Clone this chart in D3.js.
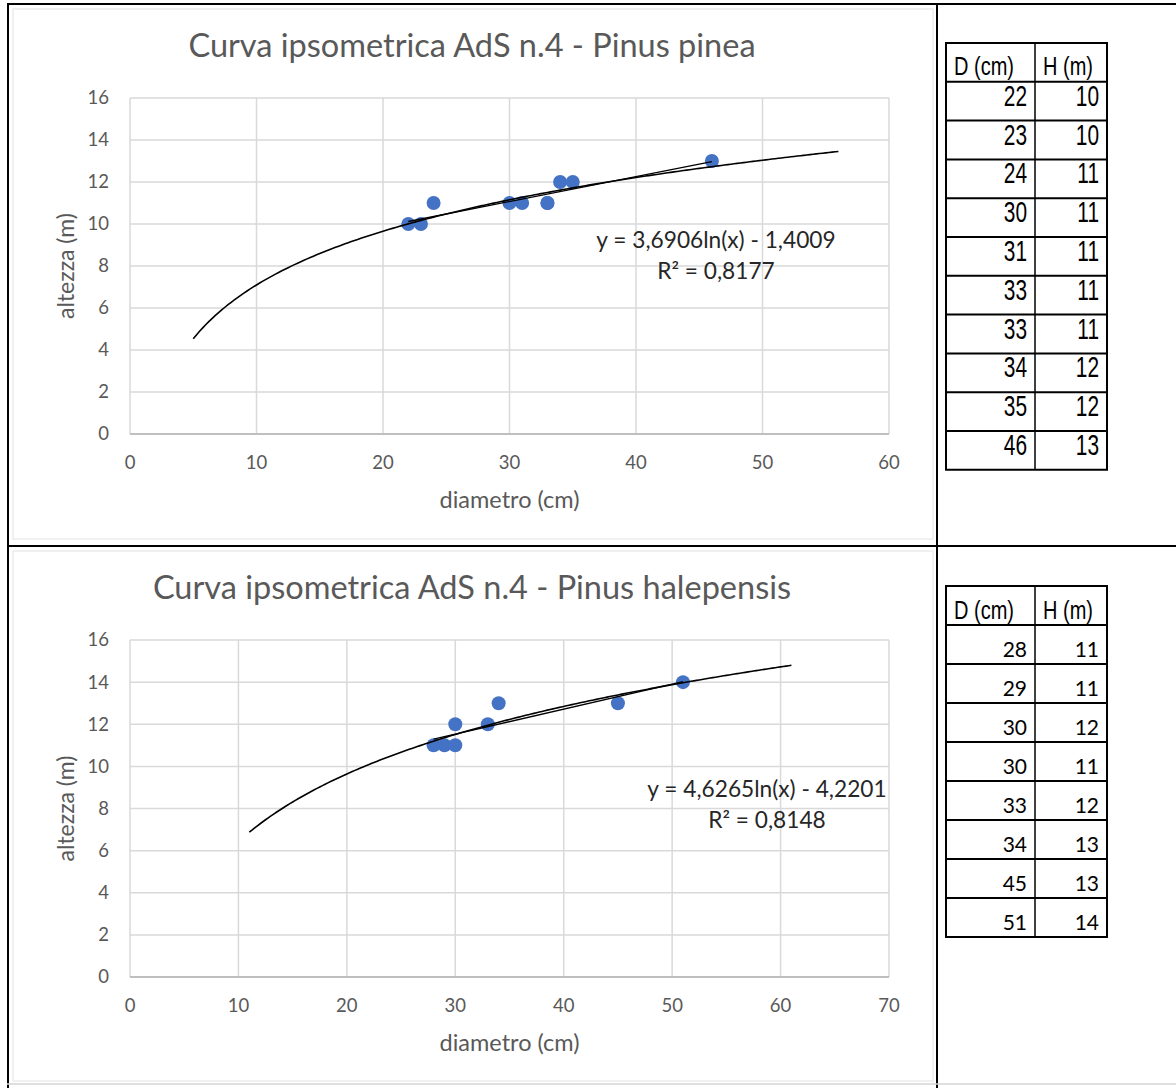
<!DOCTYPE html>
<html><head><meta charset="utf-8">
<script src="https://cdn.jsdelivr.net/npm/d3@7"></script>
<style>
html,body{margin:0;padding:0;background:#fff;}
svg{display:block;}
</style></head>
<body>
<svg id="c" width="1176" height="1088"></svg>
<script>
// ---------- DATA ----------
const pineaD = [22, 23, 24, 30, 31, 33, 33, 34, 35, 46];
const pineaH = [10, 10, 11, 11, 11, 11, 11, 12, 12, 13];
const halepD = [28, 29, 30, 30, 33, 34, 45, 51];
const halepH = [11, 11, 12, 11, 12, 13, 13, 14];
const pineaLogFit = [3.6906, -1.4009];   // y = a ln(x) + b
const halepLogFit = [4.6265, -4.2201];
const pineaFitRange = [5, 56];
const halepFitRange = [11, 61];
const pineaTitle = "Curva ipsometrica AdS n.4 - Pinus pinea";
const halepTitle = "Curva ipsometrica AdS n.4 - Pinus halepensis";
const pineaEq = ["y = 3,6906ln(x) - 1,4009", "R² = 0,8177"];
const halepEq = ["y = 4,6265ln(x) - 4,2201", "R² = 0,8148"];
const pineaXTicks = [0, 10, 20, 30, 40, 50, 60];
const halepXTicks = [0, 10, 20, 30, 40, 50, 60, 70];
const yTicks = [0, 2, 4, 6, 8, 10, 12, 14, 16];
const xTitle = "diametro (cm)";
const yTitle = "altezza (m)";
const tableHeader = ["D (cm)", "H (m)"];

const svg = d3.select("#c");
const FONT = "Lato, 'Open Sans', sans-serif";
const NARROW = "'Liberation Sans', Arial, sans-serif";
const GREY = "#595959";

function linFit(xs, ys){
  const n = xs.length, mx = d3.mean(xs), my = d3.mean(ys);
  let sxy = 0, sxx = 0;
  for (let i=0;i<n;i++){ sxy += (xs[i]-mx)*(ys[i]-my); sxx += (xs[i]-mx)**2; }
  const m = sxy/sxx; return [m, my - m*mx];
}

function drawChart(o){
  const g = svg.append("g");
  const x = d3.scaleLinear().domain([0, o.xMax]).range([o.left, o.right]);
  const y = d3.scaleLinear().domain([0, 16]).range([o.bottom, o.top]);
  g.append("rect").attr("x", o.frame[0]).attr("y", o.frame[1]).attr("width", o.frame[2]).attr("height", o.frame[3])
    .attr("fill","none").attr("stroke","#ececec").attr("stroke-width",1.5);
  // gridlines
  g.append("g").selectAll("line").data(yTicks.filter(d=>d>0)).join("line")
    .attr("x1", o.left).attr("x2", o.right).attr("y1", d=>y(d)).attr("y2", d=>y(d))
    .attr("stroke","#d9d9d9").attr("stroke-width",1.5);
  g.append("g").selectAll("line").data(o.xTicks).join("line")
    .attr("x1", d=>x(d)).attr("x2", d=>x(d)).attr("y1", o.top).attr("y2", o.bottom)
    .attr("stroke","#d9d9d9").attr("stroke-width",1.5);
  g.append("line").attr("x1", o.left).attr("x2", o.right).attr("y1", y(0)).attr("y2", y(0))
    .attr("stroke","#bfbfbf").attr("stroke-width",2);
  // tick labels
  g.append("g").selectAll("text").data(yTicks).join("text")
    .attr("x", o.left-21).attr("y", d=>y(d)).attr("dy","0.35em").attr("text-anchor","end")
    .attr("font-family",FONT).attr("font-size",18.5).attr("fill",GREY).text(d=>d);
  g.append("g").selectAll("text").data(o.xTicks).join("text")
    .attr("x", d=>x(d)).attr("y", o.bottom+29).attr("dy","0.35em").attr("text-anchor","middle")
    .attr("font-family",FONT).attr("font-size",18.5).attr("fill",GREY).text(d=>d);
  // axis titles
  g.append("text").attr("x", (o.left+o.right)/2).attr("y", o.bottom+66).attr("dy","0.35em")
    .attr("text-anchor","middle").attr("font-family",FONT).attr("font-size",23.5).attr("fill",GREY).text(xTitle);
  g.append("text").attr("transform",`translate(66,${(o.top+o.bottom)/2}) rotate(-90)`).attr("dy","0.35em")
    .attr("text-anchor","middle").attr("font-family",FONT).attr("font-size",23).attr("fill",GREY).text(yTitle);
  // title
  g.append("text").attr("x", 472).attr("y", o.titleY).attr("dy","0.35em").attr("text-anchor","middle")
    .attr("font-family",FONT).attr("font-size",32.5).attr("fill",GREY).text(o.title);
  // trend lines
  const line = d3.line().x(d=>x(d[0])).y(d=>y(d[1]));
  const pts = d3.range(o.fitRange[0], o.fitRange[1]+0.001, 0.25).map(v=>[v, o.fit[0]*Math.log(v)+o.fit[1]]);
  const lf = linFit(o.D, o.H);
  const x0 = d3.min(o.D), x1 = d3.max(o.D);
  g.append("g").selectAll("circle").data(o.D.map((d,i)=>[d,o.H[i]])).join("circle")
    .attr("cx", d=>x(d[0])).attr("cy", d=>y(d[1])).attr("r",7).attr("fill","#4472c4");
  g.append("path").attr("d", line([[x0, lf[0]*x0+lf[1]],[x1, lf[0]*x1+lf[1]]]))
    .attr("fill","none").attr("stroke","#000").attr("stroke-width",1.3);
  g.append("path").attr("d", line(pts)).attr("fill","none").attr("stroke","#000").attr("stroke-width",1.6);
  // equation
  g.append("text").attr("x", o.eqX).attr("y", o.eqY).attr("dy","0.35em").attr("text-anchor","middle")
    .attr("font-family",FONT).attr("font-size",22.7).attr("fill","#262626").text(o.eq[0]);
  g.append("text").attr("x", o.eqX).attr("y", o.eqY+31).attr("dy","0.35em").attr("text-anchor","middle")
    .attr("font-family",FONT).attr("font-size",22.7).attr("fill","#262626").text(o.eq[1]);
}

drawChart({D:pineaD, H:pineaH, fit:pineaLogFit, fitRange:pineaFitRange, xMax:60, xTicks:pineaXTicks,
  left:130, right:889, top:98, bottom:434, title:pineaTitle, titleY:46, eq:pineaEq, eqX:716, eqY:240,
  frame:[13,9,920,530]});
drawChart({D:halepD, H:halepH, fit:halepLogFit, fitRange:halepFitRange, xMax:70, xTicks:halepXTicks,
  left:130, right:889, top:640, bottom:977, title:halepTitle, titleY:588, eq:halepEq, eqX:767, eqY:789,
  frame:[13,551,920,530]});

function drawTable(o){
  const g = svg.append("g");
  const rows = o.D.length + 1;
  const rh = o.rh;
  const yRow = d3.scaleLinear().domain([0, rows]).range([o.top, o.top + rows*rh]);
  const cols = [o.left, o.mid, o.right];
  tableHeader.forEach((d,i)=>{
    g.append("text").attr("transform",`translate(${cols[i]+8},${yRow(0)+o.headBase}) scale(0.8,1)`)
      .attr("font-family",NARROW).attr("font-size",25).attr("fill","#000").text(d);
  });
  const data = o.D.map((d,i)=>[d,o.H[i]]);
  data.forEach((r,ri)=>{
    r.forEach((v,ci)=>{
      g.append("text").attr("transform",`translate(${cols[ci+1]-8},${yRow(ri+1)+o.numBase}) scale(${o.numScale},1)`)
        .attr("text-anchor","end").attr("font-family",o.numFont).attr("font-size",o.numSize)
        .attr("fill","#000").text(v);
    });
  });
  g.selectAll("line.r").data(d3.range(rows+1)).join("line").attr("class","r")
    .attr("x1", o.left-1).attr("x2", o.right+1).attr("y1", d=>yRow(d)).attr("y2", d=>yRow(d))
    .attr("stroke","#000").attr("stroke-width",2);
  g.selectAll("line.c").data(cols).join("line").attr("class","c")
    .attr("x1", d=>d).attr("x2", d=>d).attr("y1", yRow(0)).attr("y2", yRow(rows))
    .attr("stroke","#000").attr("stroke-width",(d,i)=> i===1?1.5:2);
}
drawTable({D:pineaD, H:pineaH, left:946, mid:1035, right:1107, top:43, rh:38.8,
  numFont:NARROW, numSize:29, numScale:0.72, numBase:24, headBase:32});
drawTable({D:halepD, H:halepH, left:946, mid:1035, right:1107, top:586, rh:39,
  numFont:FONT, numSize:21, numScale:1, numBase:32, headBase:33});

// outer page table lines
const frame = svg.append("g").attr("stroke","#000");
frame.append("line").attr("x1",7).attr("x2",1176).attr("y1",4).attr("y2",4).attr("stroke-width",2);
frame.append("line").attr("x1",8).attr("x2",8).attr("y1",3).attr("y2",1088).attr("stroke-width",2);
frame.append("line").attr("x1",937).attr("x2",937).attr("y1",3).attr("y2",1088).attr("stroke-width",2);
frame.append("line").attr("x1",7).attr("x2",1176).attr("y1",546).attr("y2",546).attr("stroke-width",2);
frame.append("line").attr("x1",7).attr("x2",1176).attr("y1",1084).attr("y2",1084).attr("stroke","#d5d5d5").attr("stroke-width",1.5);
</script>
</body></html>
